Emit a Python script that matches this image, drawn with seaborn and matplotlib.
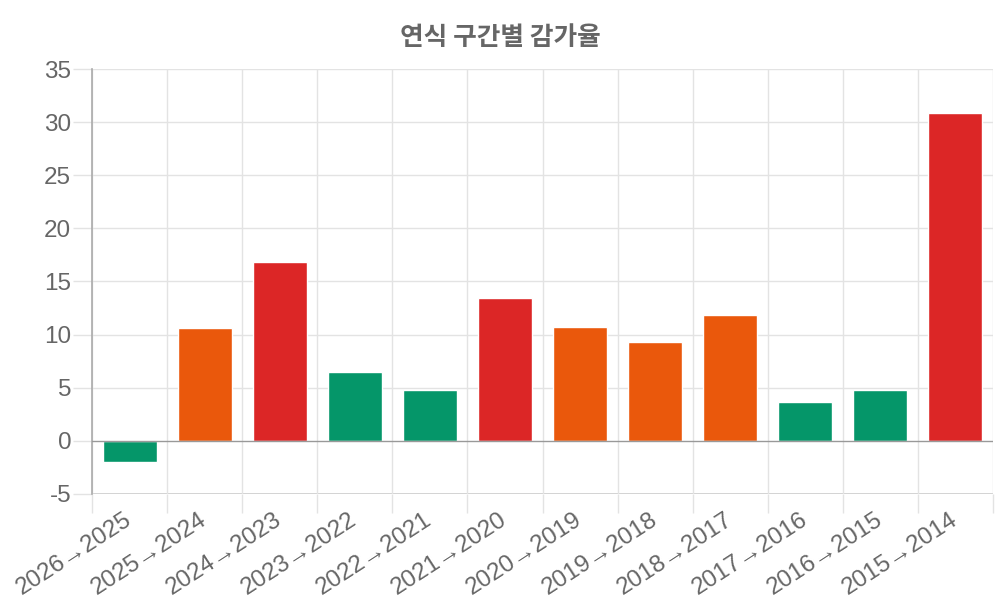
import matplotlib
matplotlib.use("Agg")
import matplotlib.pyplot as plt
import seaborn as sns
import pandas as pd
import numpy as np

categories = ["2026→2025", "2025→2024", "2024→2023", "2023→2022", "2022→2021", "2021→2020",
              "2020→2019", "2019→2018", "2018→2017", "2017→2016", "2016→2015", "2015→2014"]
values = [-2.0, 10.6, 16.8, 6.5, 4.8, 13.4, 10.7, 9.3, 11.8, 3.7, 4.8, 30.9]
colors = ["#059669", "#ea580c", "#dc2626", "#059669", "#059669", "#dc2626",
          "#ea580c", "#ea580c", "#ea580c", "#059669", "#059669", "#dc2626"]
yticks = [-5, 0, 5, 10, 15, 20, 25, 30, 35]

sns.set_theme(style="white")
plt.rcParams['font.family'] = ['Liberation Sans', 'Noto Sans CJK KR', 'DejaVu Sans']

df = pd.DataFrame({"cat": categories, "val": values})
fig = plt.figure(figsize=(10, 6), dpi=100)
ax = fig.add_axes([0.092, 0.1767, 0.901, 0.7083])
sns.barplot(data=df, x="cat", y="val", hue="cat", palette=colors, legend=False,
            width=0.72, ax=ax, saturation=1, zorder=3)

ax.set_ylim(-5, 35)
ax.set_xlim(-0.5, len(categories) - 0.5)
ax.set_yticks(yticks)
ax.set_yticklabels([str(t) for t in yticks])
ax.set_xticks(np.arange(len(categories) + 1) - 0.5, minor=True)
ax.set_xticks(np.arange(len(categories)))
ax.set_xticklabels(categories, rotation=33, ha="right", va="center", rotation_mode="anchor")

for y in yticks:
    if y == 0:
        ax.axhline(y, color="#999999", lw=1, zorder=4)
    elif y == -5:
        ax.axhline(y, color="#cccccc", lw=1.2, zorder=1)
    else:
        ax.axhline(y, color="#e3e3e3", lw=1, zorder=1)
for x in np.arange(len(categories) + 1) - 0.5:
    ax.axvline(x, color="#e3e3e3", lw=1, zorder=1)

for s in ["top", "right", "bottom"]:
    ax.spines[s].set_visible(False)
ax.spines["left"].set_color("#aaaaaa")
ax.spines["left"].set_linewidth(1.2)

ax.tick_params(axis="y", which="major", length=14, width=1, color="#e3e3e3", labelsize=17.5,
               labelcolor="#666666", pad=1, left=True)
ax.tick_params(axis="x", which="major", length=0, labelsize=17.5, labelcolor="#666666", pad=17)
ax.tick_params(axis="x", which="minor", length=14, color="#e3e3e3", bottom=True, width=1)
ax.set_xlabel("")
ax.set_ylabel("")

fig.text(0.5, 0.938, "연식 구간별 감가율", ha="center", va="center", fontsize=18.5,
         fontweight="bold", color="#666666", family=['Noto Sans CJK KR', 'DejaVu Sans'])

fig.savefig("out.png", dpi=100)
